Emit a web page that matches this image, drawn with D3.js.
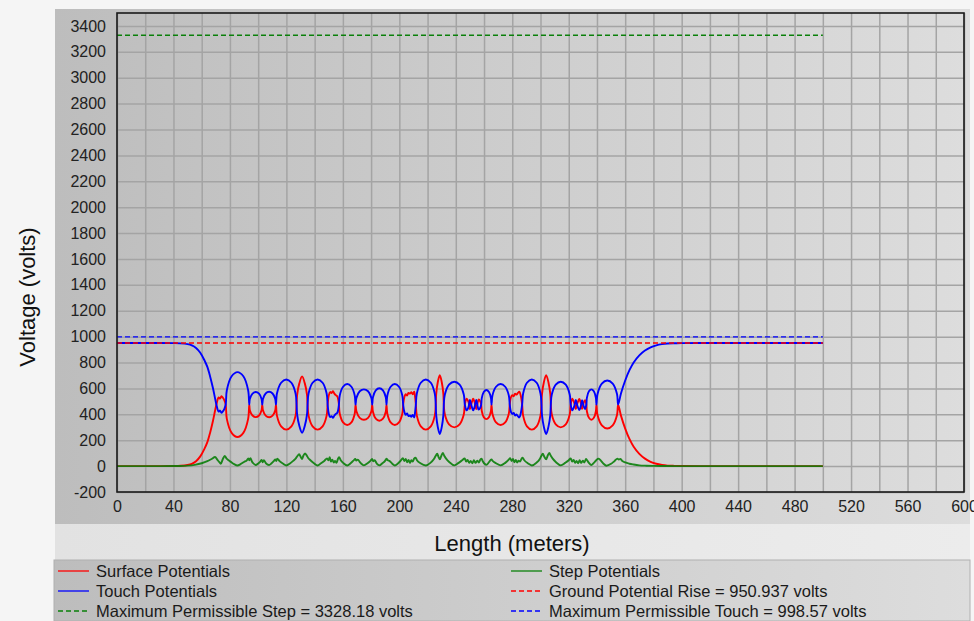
<!DOCTYPE html>
<html>
<head>
<meta charset="utf-8">
<script src="https://cdn.jsdelivr.net/npm/d3@7"></script>
<style>
  body { margin: 0; background: #f5f5f5; }
  svg { display: block; font-family: "Liberation Sans", Arial, sans-serif; }
</style>
</head>
<body>
<div id="chart"></div>
<script>
// distance along the profile (m), shared by surface and touch curves
let lengthM = [
  0, 10, 20, 30, 40, 45, 50, 53, 56, 59, 62, 64, 66, 68, 69.5, 70.5,
  72, 73, 74, 75, 76, 77,
  77.8, 81.2, 85.35, 89.5, 92.9, 93.7,
  94.1, 96.0, 98.3, 100.6, 102.4, 102.9,
  103.4, 105.3, 107.75, 110.2, 112.1, 112.6,
  113.3, 116.25, 119.9, 123.55, 126.5, 127.2,
  127.6, 129.15, 131.1, 133.05, 134.6, 135,
  135.7, 138.55, 142.1, 145.65, 148.5, 149.2,
  150, 151, 152, 153, 154, 155, 156, 156.7, 157.2,
  157.8, 160.15, 163.1, 166.05, 168.4, 169,
  169.6, 171.95, 174.9, 177.85, 180.2, 180.8,
  181.3, 183.3, 185.85, 188.4, 190.4, 190.9,
  191.5, 193.85, 196.8, 199.75, 202.1, 202.7,
  203.5, 204.5, 205.5, 206.5, 207.5, 208.5, 209.5, 210.5, 211.2, 211.7,
  212.4, 215.2, 218.75, 222.3, 225.1, 225.8,
  226.1, 227.2, 228.65, 230.1, 231.2, 231.5,
  232.25, 235.2, 238.95, 242.7, 245.65, 246.4,
  247.6, 249, 250, 251, 252.3, 253.3, 254.5, 255.3, 256.2, 257.3, 258,
  258.4, 259.8, 261.65, 263.5, 264.9, 265.3,
  265.95, 268.5, 271.75, 275, 277.55, 278.2,
  279, 280, 281, 282, 283, 284, 285, 286, 287,
  287.7, 290.4, 293.85, 297.3, 300, 300.7,
  301.05, 302.35, 304, 305.65, 306.95, 307.3,
  308, 310.8, 314.35, 317.9, 320.7, 321.4,
  322.5, 324, 325, 326, 327.5, 328.5, 329.5, 330.5, 331.5, 332.5,
  332.85, 334.3, 336.05, 337.8, 339.25, 339.6,
  340.4, 343.45, 347.3, 351.15, 354.2, 355,
  357, 360, 363, 366, 370, 374, 378, 382, 386, 390, 395, 400, 420, 440, 460, 480, 500
];

let surface = [
  0, 0, 0, 0, 1, 3, 9, 18, 38, 75, 135, 185, 260, 350, 430, 480,
  530, 522, 540, 528, 510, 475,
  365, 257, 225, 257, 365, 475,
  432, 391, 378, 391, 432, 475,
  432, 390, 377, 390, 432, 475,
  390, 307, 282, 307, 390, 475,
  551, 639, 693, 639, 551, 475,
  390, 307, 282, 307, 390, 475,
  545, 572, 565, 578, 560, 548, 540, 515, 475,
  405, 338, 317, 338, 405, 475,
  424, 373, 358, 373, 424, 475,
  420, 366, 350, 366, 420, 475,
  405, 338, 317, 338, 405, 475,
  530, 555, 545, 565, 560, 570, 555, 575, 530, 475,
  390, 307, 282, 307, 390, 475,
  555, 646, 703, 646, 555, 475,
  398, 322, 299, 322, 398, 475,
  520, 495, 440, 480, 520, 495, 440, 480, 515, 500, 475,
  426, 378, 363, 378, 426, 475,
  405, 338, 317, 338, 405, 475,
  530, 548, 540, 560, 552, 565, 575, 545, 475,
  390, 307, 282, 307, 390, 475,
  555, 646, 703, 646, 555, 475,
  398, 322, 299, 322, 398, 475,
  520, 485, 440, 480, 518, 490, 442, 485, 510, 475,
  424, 373, 358, 373, 424, 475,
  394, 314, 290, 314, 394, 475,
  390, 290, 210, 150, 95, 58, 33, 18, 9, 4, 2, 1, 0, 0, 0, 0, 0
];

let touch = [
  951, 951, 951, 951, 950, 948, 942, 933, 913, 876, 816, 766, 691, 601, 521, 471,
  421, 429, 411, 423, 441, 476,
  586, 694, 726, 694, 586, 476,
  519, 560, 573, 560, 519, 476,
  519, 561, 574, 561, 519, 476,
  561, 644, 669, 644, 561, 476,
  400, 312, 258, 312, 400, 476,
  561, 644, 669, 644, 561, 476,
  406, 379, 386, 373, 391, 403, 411, 436, 476,
  546, 613, 634, 613, 546, 476,
  527, 578, 593, 578, 527, 476,
  531, 585, 601, 585, 531, 476,
  546, 613, 634, 613, 546, 476,
  421, 396, 406, 386, 391, 381, 396, 376, 421, 476,
  561, 644, 669, 644, 561, 476,
  396, 305, 248, 305, 396, 476,
  553, 629, 652, 629, 553, 476,
  431, 456, 511, 471, 431, 456, 511, 471, 436, 451, 476,
  525, 573, 588, 573, 525, 476,
  546, 613, 634, 613, 546, 476,
  421, 403, 411, 391, 399, 386, 376, 406, 476,
  561, 644, 669, 644, 561, 476,
  396, 305, 248, 305, 396, 476,
  553, 629, 652, 629, 553, 476,
  431, 466, 511, 471, 433, 461, 509, 466, 441, 476,
  527, 578, 593, 578, 527, 476,
  557, 637, 661, 637, 557, 476,
  561, 661, 741, 801, 856, 893, 918, 933, 942, 947, 949, 950, 951, 951, 951, 951, 951
];

// step potentials have their own, more jagged sampling
let stepLength = [
  0, 20, 40, 45, 50, 55, 60, 64, 67, 69.5,
  71, 72.5, 73.5, 75, 76.3, 77.5, 79, 81, 83, 85.3,
  87.5, 90, 92, 93, 93.7, 94.5, 95.5, 96.5, 98.3,
  100, 101.5, 102.5, 103.2, 104, 105.5, 107.7,
  109.5, 111, 112, 112.8, 113.5, 115, 117.5, 120,
  122.5, 125, 126.8, 127.8, 129, 130.2, 131.1, 132, 133.2, 134.2, 135.3,
  137, 139.5, 142.1, 144.5, 147, 148.8,
  149.8, 150.7, 151.5, 152.5, 153.5, 154.5, 155.5, 156.5, 157.3,
  158.5, 160.5, 163.1, 165.5, 167.5, 168.8, 169.5, 170.5, 172.5, 174.9,
  177.5, 179.5, 180.7, 181.5, 182.5, 184, 185.9,
  188, 190, 190.9, 191.8, 193, 195, 196.8,
  199, 201, 202.5, 203.5, 204.5, 205.5, 206.5, 207.5, 208.5, 209.5, 210.5, 211.5, 212.5,
  215, 218.8, 222, 224.5, 225.7, 226.8, 227.8, 228.7, 229.7, 230.8, 231.8, 233, 235.5, 239,
  242, 244.5, 246.3, 247.3, 248.3, 249.5, 250.5, 251.8, 252.8, 254, 255.2, 256.3, 257.3, 258.2,
  259.2, 261.7, 263.5, 265.2, 266.3, 268.5, 271.8,
  275, 277.5, 278.5, 279.5, 280.5, 281.5, 282.5, 283.5, 284.5, 285.5, 286.5, 287.3, 288.5, 291, 293.9,
  297, 299.5, 300.6, 301.6, 302.8, 304, 305, 306.2, 307.3, 308.5, 311, 314.4,
  317.5, 320, 321.4, 322.4, 323.5, 324.5, 325.5, 326.7, 327.7, 328.8, 330, 331, 332.3, 333.3, 334.3, 336,
  337.8, 339.5, 341, 342.5, 344.5, 346.7, 350, 352.5, 354.5, 355.5, 356.5, 358, 360, 363, 366, 370, 375, 380, 390, 400, 500
];

let step = [
  0, 0, 0.5, 1, 4, 10, 22, 38, 55, 70,
  50, 30, 18, 55, 78, 60, 45, 30, 15, 5,
  15, 32, 45, 60, 45, 62, 38, 22, 8,
  20, 35, 48, 30, 45, 22, 8,
  22, 38, 52, 40, 58, 40, 20, 5,
  20, 42, 62, 78, 92, 70, 55, 80, 98, 85, 65,
  45, 22, 5, 22, 42, 60,
  45, 68, 35, 50, 28, 40, 25, 55, 68,
  45, 22, 5, 22, 42, 55, 42, 50, 25, 6,
  22, 40, 55, 38, 45, 20, 6,
  22, 42, 58, 45, 40, 18, 5,
  20, 42, 62, 40, 55, 30, 48, 25, 45, 35, 58, 65, 45,
  22, 5, 25, 55, 78, 95, 70, 52, 78, 102, 80, 60, 30, 6,
  25, 45, 60, 35, 48, 25, 40, 22, 45, 25, 42, 28, 48, 58,
  35, 10, 30, 52, 38, 22, 6,
  25, 50, 62, 40, 55, 30, 48, 28, 42, 35, 55, 65, 45, 22, 5,
  25, 55, 78, 95, 70, 52, 78, 102, 80, 60, 30, 6,
  25, 45, 60, 35, 48, 25, 40, 22, 45, 25, 42, 28, 55, 40, 25, 8,
  25, 45, 58, 45, 20, 3, 18, 40, 58, 50, 55, 40, 28, 18, 12, 6, 3, 1.5, 0.5, 0, 0
];

// reference levels (volts) and where they stop along the profile
let groundPotentialRise = 950.937;
let maxPermissibleStep = 3328.18;
let maxPermissibleTouch = 998.57;
let profileEnd = 500;

// axis ticks
let xTickValues = [0, 40, 80, 120, 160, 200, 240, 280, 320, 360, 400, 440, 480, 520, 560, 600];
let xGridValues = [0, 20, 40, 60, 80, 100, 120, 140, 160, 180, 200, 220, 240, 260, 280, 300,
  320, 340, 360, 380, 400, 420, 440, 460, 480, 500, 520, 540, 560, 580, 600];
let yTickValues = [-200, 0, 200, 400, 600, 800, 1000, 1200, 1400, 1600, 1800, 2000, 2200,
  2400, 2600, 2800, 3000, 3200, 3400];

let legendLabels = [
  "Surface Potentials",
  "Touch Potentials",
  `Maximum Permissible Step = ${maxPermissibleStep} volts`,
  "Step Potentials",
  `Ground Potential Rise = ${groundPotentialRise} volts`,
  `Maximum Permissible Touch = ${maxPermissibleTouch} volts`
];
let legendColors = ["#ff0000", "#0000ff", "#0a800a", "#0a800a", "#ff0000", "#0000ff"];
let legendDashed = [false, false, true, false, true, true];

//set canvas and margins
let svgWidth = 974;
let svgHeight = 621;
let margin = { top: 13, right: 10, bottom: 129, left: 117 };
let width = 964 - margin.left;
let height = 492 - margin.top;

let svg = d3.select("#chart")
  .append("svg")
  .attr("width", svgWidth)
  .attr("height", svgHeight);

// gray gradient used by the panel and legend
let grad = svg.append("defs").append("linearGradient")
  .attr("id", "panelFill")
  .attr("x1", "0%").attr("x2", "100%");
grad.append("stop").attr("offset", "0%").attr("stop-color", "#bdbdbd");
grad.append("stop").attr("offset", "100%").attr("stop-color", "#dddddd");

let band = svg.append("defs").append("linearGradient")
  .attr("id", "bandFill")
  .attr("x1", "0%").attr("x2", "100%");
band.append("stop").attr("offset", "0%").attr("stop-color", "#e2e2e2");
band.append("stop").attr("offset", "100%").attr("stop-color", "#ececec");

svg.append("rect")
  .attr("x", 55).attr("y", 524).attr("width", 915).attr("height", 36)
  .attr("fill", "url(#bandFill)");

svg.append("rect")
  .attr("x", 55).attr("y", 9).attr("width", 915).attr("height", 515)
  .attr("fill", "url(#panelFill)");

svg.append("rect")
  .attr("x", 54).attr("y", 560).attr("width", 916).attr("height", 61)
  .attr("fill", "url(#panelFill)")
  .attr("stroke", "#b0b0b0");

let chartGroup = svg.append("g")
  .attr("transform", `translate(${margin.left}, ${margin.top})`);

//create scale function
let xLinearScale = d3.scaleLinear()
  .domain([0, 600])
  .range([0, width]);

let yLinearScale = d3.scaleLinear()
  .domain([-200, 3500])
  .range([height, 0]);

// grid lines
chartGroup.append("g")
  .attr("class", "grid")
  .attr("transform", `translate(0, ${height})`)
  .call(d3.axisBottom(xLinearScale).tickValues(xGridValues).tickSize(-height).tickFormat(""))
  .call(g => g.select(".domain").remove())
  .call(g => g.selectAll("line").attr("stroke", "#a4a4a4").attr("stroke-width", 1.5));

chartGroup.append("g")
  .attr("class", "grid")
  .call(d3.axisLeft(yLinearScale).tickValues(yTickValues).tickSize(-width).tickFormat(""))
  .call(g => g.select(".domain").remove())
  .call(g => g.selectAll("line").attr("stroke", "#a4a4a4").attr("stroke-width", 1.5));

//append axis to chart
chartGroup.append("g")
  .attr("transform", `translate(0, ${height})`)
  .call(d3.axisBottom(xLinearScale).tickValues(xTickValues).tickSize(0).tickPadding(9)
    .tickFormat(d => String(d)))
  .call(g => g.select(".domain").remove())
  .call(g => g.selectAll("text").attr("font-size", 16).attr("fill", "#222")
    .attr("font-family", "'Liberation Sans', Arial, sans-serif"));

chartGroup.append("g")
  .call(d3.axisLeft(yLinearScale).tickValues(yTickValues).tickSize(0).tickPadding(11)
    .tickFormat(d => String(d)))
  .call(g => g.select(".domain").remove())
  .call(g => g.selectAll("text").attr("font-size", 16).attr("fill", "#222")
    .attr("font-family", "'Liberation Sans', Arial, sans-serif"));

// data lines
let curveLine = d3.line()
  .x(d => xLinearScale(d[0]))
  .y(d => yLinearScale(d[1]))
  .curve(d3.curveCatmullRom.alpha(0.5));

let stepLine = d3.line()
  .x(d => xLinearScale(d[0]))
  .y(d => yLinearScale(d[1]))
  .curve(d3.curveMonotoneX);

chartGroup.append("path")
  .datum(d3.zip(lengthM, surface))
  .attr("d", curveLine)
  .attr("fill", "none")
  .attr("stroke", "#ff0000")
  .attr("stroke-width", 1.9);

chartGroup.append("path")
  .datum(d3.zip(lengthM, touch))
  .attr("d", curveLine)
  .attr("fill", "none")
  .attr("stroke", "#0000ff")
  .attr("stroke-width", 1.9);

chartGroup.append("path")
  .datum(d3.zip(stepLength, step))
  .attr("d", stepLine)
  .attr("fill", "none")
  .attr("stroke", "#0a800a")
  .attr("stroke-opacity", 0.9)
  .attr("stroke-width", 1.9);

// dashed reference levels
let refLevels = [groundPotentialRise, maxPermissibleTouch, maxPermissibleStep];
let refColors = ["#ff0000", "#0000ff", "#0a800a"];
chartGroup.selectAll(".ref")
  .data(refLevels)
  .join("line")
  .attr("class", "ref")
  .attr("x1", xLinearScale(0))
  .attr("x2", xLinearScale(profileEnd))
  .attr("y1", d => yLinearScale(d))
  .attr("y2", d => yLinearScale(d))
  .attr("stroke", (d, i) => refColors[i])
  .attr("stroke-width", 1.3)
  .attr("stroke-dasharray", "5,3");

// plot border
chartGroup.append("rect")
  .attr("width", width)
  .attr("height", height)
  .attr("fill", "none")
  .attr("stroke", "#1a1a1a")
  .attr("stroke-width", 1.6);

//label y axis
svg.append("text")
  .attr("transform", "translate(35, 297) rotate(-90)")
  .attr("text-anchor", "middle")
  .attr("font-size", 22)
  .attr("fill", "#111")
  .text("Voltage (volts)");

//label x axis
svg.append("text")
  .attr("x", 512)
  .attr("y", 551)
  .attr("text-anchor", "middle")
  .attr("font-size", 22)
  .attr("fill", "#111")
  .text("Length (meters)");

// legend, three rows by two columns
let legend = svg.append("g");
let legendItem = legend.selectAll("g")
  .data(legendLabels)
  .join("g")
  .attr("transform", (d, i) => `translate(${i < 3 ? 58 : 511}, ${571 + (i % 3) * 20})`);

legendItem.append("line")
  .attr("x1", 0).attr("x2", 31)
  .attr("stroke", (d, i) => legendColors[i])
  .attr("stroke-width", 1.3)
  .attr("stroke-dasharray", (d, i) => legendDashed[i] ? "5,3" : null);

legendItem.append("text")
  .attr("x", 38)
  .attr("dy", "0.35em")
  .attr("font-size", 16.5)
  .attr("fill", "#1a1a1a")
  .text(d => d);
</script>
</body>
</html>
